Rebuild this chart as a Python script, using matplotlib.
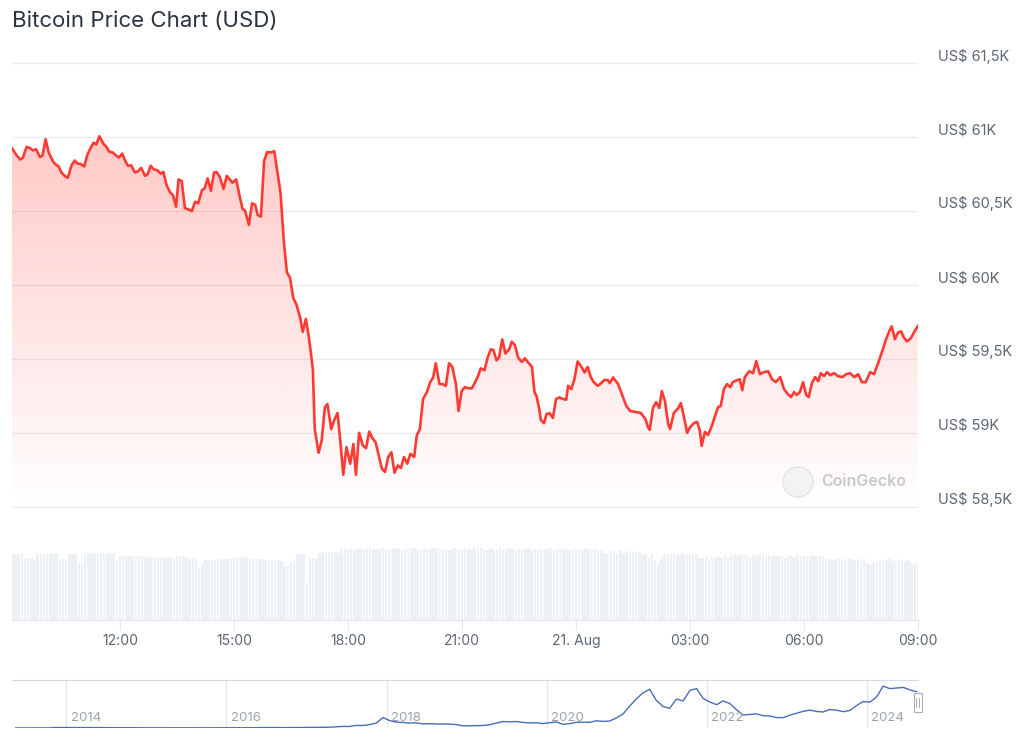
#!/usr/bin/env python3
"""
Bitcoin-Kurs (USD) der letzten 24h mit Volumen und Navigator-Leiste.
Speichert das Diagramm als 'out.png'.
"""

import numpy as np
import pandas as pd
import matplotlib
matplotlib.use('Agg')
import matplotlib.pyplot as plt
import matplotlib.dates as mdates
from matplotlib import transforms
from matplotlib.colors import to_rgb
from matplotlib.patches import Circle, Rectangle
from matplotlib.lines import Line2D

plt.rcParams['font.family'] = ['Inter', 'DejaVu Sans']

# ---------------------------------------------------------------- Daten
price_start = '2024-08-20 09:09:30'
# Minuten seit Start und Kurs in USD
price_minutes = [
    0, 7, 13, 17, 23, 28, 33, 38, 44, 48, 53, 58, 65, 70, 73, 78, 83, 88, 94, 99,
    103, 108, 114, 119, 125, 129, 133, 138, 144, 149, 154, 159, 165, 169, 174, 179,
    183, 188, 194, 199, 204, 210, 214, 219, 224, 229, 235, 239,
    244, 249, 254, 259, 263, 268, 273, 278, 284, 289, 294, 300, 304, 309, 314, 319,
    323, 328, 334, 339, 344, 348, 354, 359, 364, 368, 374, 379, 384, 388, 393, 398,
    403, 408, 414, 419, 424, 429, 434, 439, 444, 449, 455, 459, 464, 469,
    475, 478, 484, 489, 494, 498, 504, 509, 514, 519, 523, 528, 534, 539, 543, 548,
    554, 559, 564, 569, 574, 579, 584, 589, 594, 599, 604, 609, 614, 619, 624, 629,
    635, 639, 644, 649, 655, 660, 665, 669, 675, 680, 685, 690, 695, 701, 705, 710, 715,
    720, 726, 731, 736, 740, 746, 751, 756, 760, 765, 769, 774, 779, 785, 789, 794,
    799, 805, 810, 815, 821, 825, 828, 832, 835, 840, 844, 849, 854, 859, 864, 870,
    875, 878, 883, 888, 893, 898, 904, 909, 914, 919, 925, 930, 935, 941, 944, 949,
    957, 963, 970, 976, 985, 993, 1000, 1004, 1007, 1012, 1017, 1022, 1026, 1031,
    1036, 1039, 1045, 1052, 1056, 1061, 1066, 1071, 1077, 1082, 1086, 1089, 1094,
    1099, 1105, 1110, 1115, 1119, 1124, 1129, 1134, 1138, 1145, 1149, 1153, 1157,
    1164, 1170, 1175, 1181, 1187, 1194, 1200, 1206, 1213, 1219, 1225, 1230, 1235,
    1239, 1244, 1249, 1254, 1258, 1263, 1268, 1273, 1277, 1282, 1287, 1292, 1298,
    1304, 1311, 1317, 1323, 1330, 1336, 1342, 1348, 1355, 1361, 1367, 1374, 1380,
    1385, 1389, 1394, 1399, 1404, 1408, 1413, 1419, 1426, 1430,
]
price_usd = [
    60926, 60879, 60850, 60860, 60935, 60928, 60912, 60919, 60867, 60874, 60987, 60897,
    60834, 60811, 60807, 60762, 60739, 60726, 60811, 60843, 60823, 60820, 60803, 60883,
    60935, 60964, 60951, 61007, 60958, 60935, 60901, 60897, 60874, 60863, 60890, 60838,
    60807, 60811, 60762, 60771, 60793, 60739, 60749, 60807, 60782, 60778, 60753, 60766,
    60677, 60631, 60609, 60530, 60715, 60703, 60520, 60513, 60501, 60564, 60553, 60643,
    60652, 60722, 60638, 60762, 60764, 60732, 60650, 60739, 60715, 60692, 60715, 60609,
    60515, 60503, 60407, 60553, 60542, 60474, 60463, 60840, 60901, 60897, 60906, 60766,
    60621, 60306, 60086, 60048, 59913, 59868, 59778, 59683, 59770, 59639,
    59430, 59025, 58864, 58947, 59172, 59194, 59025, 59088, 59133, 58913, 58715, 58902,
    58790, 58924, 58715, 58999, 58913, 58895, 59007, 58963, 58936, 58846, 58756, 58734,
    58835, 58868, 58729, 58778, 58761, 58835, 58790, 58857, 58835, 58980, 59025, 59228,
    59273, 59340, 59374, 59470, 59329, 59329, 59317, 59470, 59448, 59329, 59147, 59282, 59308,
    59302, 59300, 59340, 59385, 59435, 59423, 59509, 59565, 59560, 59490, 59509, 59632,
    59536, 59565, 59616, 59594, 59509, 59479, 59504, 59475, 59445, 59273, 59250, 59172,
    59086, 59064, 59127, 59131, 59100, 59228, 59239, 59228, 59223, 59317, 59295, 59362,
    59482, 59452, 59408, 59445, 59374, 59340, 59317, 59335, 59356, 59356, 59335, 59374,
    59329, 59261, 59180, 59147, 59140, 59133, 59093, 59039, 59019, 59167, 59207, 59167,
    59282, 59214, 59059, 59025, 59133, 59167, 59201, 59106, 58999, 59039, 59066, 59073,
    59012, 58911, 59005, 58985, 59046, 59113, 59174, 59180, 59295, 59329, 59308, 59342,
    59356, 59362, 59288, 59376, 59416, 59403, 59484, 59396, 59410, 59416, 59362, 59342,
    59376, 59295, 59261, 59241, 59275, 59255, 59275, 59342, 59255, 59241, 59335, 59376,
    59349, 59403, 59383, 59410, 59389, 59403, 59383, 59376, 59396, 59403, 59376, 59396,
    59342, 59342, 59410, 59396, 59464, 59551, 59632, 59686, 59720, 59632, 59679, 59686,
    59645, 59618, 59639, 59693, 59720,
]

# Volumen je 5 Minuten (Mio. USD), eine Zeile = eine Stunde ab 09:10
volume_start = '2024-08-20 09:10'
volume_musd = [
    106, 106, 105, 106, 98, 99, 100, 96, 105, 106, 106, 105,
    106, 105, 106, 98, 97, 98, 106, 105, 106, 91, 92, 106,
    107, 106, 107, 106, 107, 106, 107, 106, 107, 96, 102, 103,
    102, 103, 102, 103, 102, 103, 101, 100, 101, 100, 101, 100,
    101, 100, 101, 100, 102, 103, 102, 99, 100, 99, 98, 84,
    90, 96, 96, 95, 96, 97, 98, 97, 98, 97, 99, 100,
    101, 100, 101, 97, 98, 97, 98, 97, 96, 95, 96, 96,
    96, 95, 86, 87, 93, 92, 105, 106, 105, 59, 99, 99,
    100, 108, 109, 108, 109, 108, 109, 108, 114, 113, 114, 114,
    113, 114, 115, 114, 113, 115, 114, 113, 114, 115, 114, 113,
    115, 113, 116, 112, 114, 115, 113, 116, 114, 112, 115, 114,
    113, 115, 114, 116, 113, 114, 112, 115, 116, 113, 114, 115,
    114, 112, 115, 113, 116, 114, 112, 115, 114, 113, 115, 112,
    113, 115, 114, 112, 116, 113, 114, 115, 112, 114, 113, 115,
    114, 113, 115, 112, 114, 116, 113, 114, 112, 115, 113, 114,
    112, 115, 113, 114, 115, 112, 110, 108, 106, 110, 111, 108,
    112, 108, 111, 107, 110, 109, 107, 106, 104, 100, 106, 95,
    89, 97, 106, 105, 106, 105, 104, 106, 105, 104, 106, 105,
    105, 99, 100, 103, 97, 101, 100, 103, 99, 104, 101, 105,
    104, 103, 105, 104, 103, 101, 104, 102, 105, 103, 102, 104,
    103, 102, 101, 103, 100, 102, 103, 101, 104, 103, 104, 102,
    103, 104, 102, 103, 101, 100, 98, 96, 97, 99, 98, 96,
    98, 97, 96, 98, 95, 97, 90, 88, 91, 93, 96, 97,
    96, 97, 95, 96, 97, 96, 95, 96, 92, 90, 91,
]

y_ticks = [58500, 59000, 59500, 60000, 60500, 61000, 61500]
y_labels = ['US$ 58,5K', 'US$ 59K', 'US$ 59,5K', 'US$ 60K',
            'US$ 60,5K', 'US$ 61K', 'US$ 61,5K']
x_ticks = ['2024-08-20 12:00', '2024-08-20 15:00', '2024-08-20 18:00',
           '2024-08-20 21:00', '2024-08-21 00:00', '2024-08-21 03:00',
           '2024-08-21 06:00', '2024-08-21 09:00']
x_labels = ['12:00', '15:00', '18:00', '21:00', '21. Aug', '03:00', '06:00', '09:00']

# Navigator: Monatswerte seit Mai 2013 (USD)
nav_start = '2013-05-01'
nav_usd = [
    120, 105, 90, 120, 130, 180, 800, 750,
    820, 600, 560, 450, 500, 620, 600, 500, 450, 360, 370, 330,
    250, 240, 270, 230, 240, 240, 280, 250, 235, 270, 350, 430,
    400, 410, 415, 430, 460, 700, 660, 580, 610, 640, 740, 800,
    950, 1050, 1100, 1250, 2000, 2600, 2500, 4200, 4000, 5500, 8000, 17000,
    12000, 9500, 9000, 8000, 8500, 6600, 7000, 6500, 6500, 6400, 5500, 3600,
    3600, 3800, 4000, 5200, 7800, 10500, 10000, 10500, 9000, 8300, 8500, 7200,
    8500, 9800, 6000, 7100, 9300, 9500, 9200, 11700, 10700, 11400, 16500, 23000,
    36000, 48000, 57000, 63000, 45000, 35000, 32000, 47000, 44000, 61000, 64000, 48000,
    42000, 38000, 44000, 40000, 30000, 21000, 22000, 23000, 20000, 19500, 17000, 16800,
    21000, 24000, 27000, 29000, 27000, 26000, 30000, 29000, 26500, 28500, 36500, 43000,
    42000, 51000, 68000, 64000, 65000, 66000, 62000, 59000,
]
nav_years = ['2014', '2016', '2018', '2020', '2022', '2024']

# ---------------------------------------------------------------- Layout
W, H = 1024, 747
RED = '#ff3a33'
GRID = '#e9ecf0'
LABEL = '#5b6573'


def box(x0, y0, x1, y1):
    """Pixelrechteck (oben links Ursprung) -> Figure-Koordinaten."""
    return [x0 / W, 1 - y1 / H, (x1 - x0) / W, (y1 - y0) / H]


fig = plt.figure(figsize=(W / 100, H / 100), dpi=100, facecolor='white')
ax = fig.add_axes(box(12, 62, 918, 508))
axv = fig.add_axes(box(12, 542, 918, 620), sharex=ax)
nav = fig.add_axes(box(12, 680, 918, 728))

x_lim = (mdates.date2num(pd.Timestamp('2024-08-20 09:09:28')),
         mdates.date2num(pd.Timestamp('2024-08-21 09:00:00')))

# ---------------------------------------------------------------- Kurs
times = pd.Timestamp(price_start) + pd.to_timedelta(price_minutes, unit='min')
xs = mdates.date2num(times.to_pydatetime())
y_min = y_ticks[0]

fill = ax.fill_between(xs, price_usd, y_min, facecolor='none', edgecolor='none')
grad = np.zeros((256, 1, 4))
grad[..., :3] = to_rgb(RED)
grad[:, 0, 3] = np.linspace(0.0, 0.27, 256)
im = ax.imshow(grad, extent=(xs[0], xs[-1], y_min, max(price_usd)), origin='lower',
               aspect='auto', interpolation='bilinear', zorder=1)
im.set_clip_path(fill.get_paths()[0], transform=ax.transData)

ax.plot(xs, price_usd, color=RED, lw=1.9, solid_joinstyle='round', zorder=3)

ax.set_xlim(x_lim)
ax.set_ylim(y_ticks[0] - 10, y_ticks[-1] + 10)
ax.set_yticks(y_ticks)
ax.tick_params(axis='y', length=0, labelleft=False, labelright=False)
ax.tick_params(axis='x', bottom=False, labelbottom=False)
ax.grid(axis='y', color=GRID, lw=1)
ax.set_axisbelow(True)
for s in ax.spines.values():
    s.set_visible(False)

# Achsenbeschriftung rechts, leicht oberhalb der Gitterlinie
ylab_tf = transforms.blended_transform_factory(ax.transAxes, ax.transData)
for yv, lab in zip(y_ticks, y_labels):
    ax.annotate(lab, xy=(1, yv), xycoords=ylab_tf, xytext=(14.4, 2),
                textcoords='offset points', ha='left', va='baseline',
                fontsize=10.5, color=LABEL, annotation_clip=False)

# ---------------------------------------------------------------- Volumen
vol_times = pd.Timestamp(volume_start) + pd.to_timedelta(5 * np.arange(len(volume_musd)), unit='min')
axv.bar(mdates.date2num(vol_times.to_pydatetime()), volume_musd, width=3.9 / 1440,
        color='#edf0f4', linewidth=0)
axv.set_ylim(0, 125)
axv.set_yticks([])
axv.set_xticks(mdates.date2num(pd.to_datetime(x_ticks).to_pydatetime()))
axv.set_xticklabels(x_labels)
axv.tick_params(axis='x', length=7, color='#e3e7ec', labelsize=10, labelcolor=LABEL, pad=3)
for side in ('top', 'left', 'right'):
    axv.spines[side].set_visible(False)
axv.spines['bottom'].set_color('#e3e7ec')
axv.set_xlim(x_lim)

# ---------------------------------------------------------------- Navigator
nav_dates = pd.date_range(nav_start, periods=len(nav_usd), freq='MS') + pd.Timedelta(days=14)
nx = mdates.date2num(nav_dates.to_pydatetime())
nav.plot(nx, nav_usd, color='#4a6cb8', lw=1)
nav.set_xlim(mdates.date2num(pd.Timestamp('2013-04-28')),
             mdates.date2num(pd.Timestamp('2024-08-21')))
nav.set_ylim(0, 78000)
year_x = mdates.date2num(pd.to_datetime([y + '-01-01' for y in nav_years]).to_pydatetime())
nav.set_xticks(year_x)
nav.set_yticks([])
nav.tick_params(axis='x', length=0, labelbottom=False)
nav.grid(axis='x', color='#e3e6eb', lw=1)
nav.set_axisbelow(True)
for side in ('bottom', 'left', 'right'):
    nav.spines[side].set_visible(False)
nav.spines['top'].set_color('#d5dae1')
blend = transforms.blended_transform_factory(nav.transData, nav.transAxes)
for xv, lab in zip(year_x, nav_years):
    nav.annotate(lab, xy=(xv, 0), xycoords=blend, xytext=(3, 3), textcoords='offset points',
                 ha='left', va='bottom', fontsize=9.5, color='#9ca3ad')

# Navigator-Griff rechts
fig.add_artist(Rectangle((9.135, 0.35), 0.085, 0.19, transform=fig.dpi_scale_trans,
                         facecolor='white', edgecolor='#a9b0b9', lw=0.8))
for hx in (9.165, 9.19):
    fig.add_artist(Line2D([hx, hx], [0.40, 0.49], transform=fig.dpi_scale_trans,
                          color='#a9b0b9', lw=0.7))

# ---------------------------------------------------------------- Texte
fig.text(12 / W, 1 - 21 / H, 'Bitcoin Price Chart (USD)', fontsize=16,
         color='#2a3340', va='center', ha='left')

fig.add_artist(Circle((7.98, (H - 482) / 100), 0.15, transform=fig.dpi_scale_trans,
                      facecolor='#f3f3f3', edgecolor='#e3e3e3', lw=1))
fig.text(821 / W, 1 - 481 / H, 'CoinGecko', fontsize=11.5, fontweight='semibold',
         color='#c6c8cb', va='center', ha='left')

fig.savefig('out.png', dpi=100, facecolor='white')
print('Diagramm gespeichert unter: out.png')
